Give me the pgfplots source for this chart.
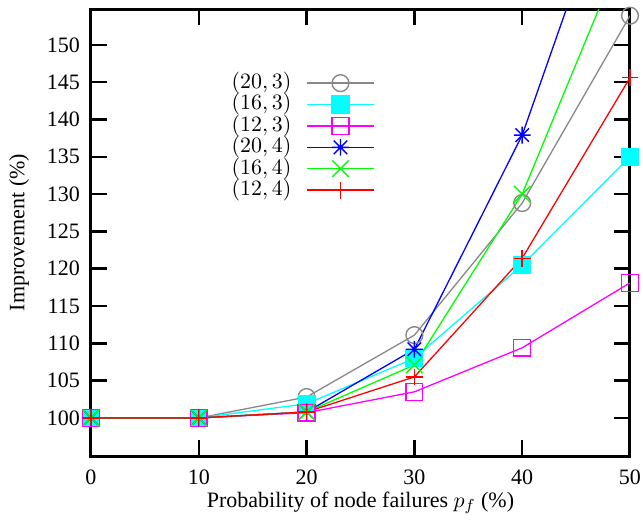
\documentclass[border=0pt]{standalone}
\usepackage{fontspec}
\setmainfont{Liberation Serif}
\usepackage{pgfplots}
\pgfplotsset{compat=1.18}

% gnuplot-like asterisk: plus and cross together
\pgfdeclareplotmark{gpstar}{%
  \pgfpathmoveto{\pgfqpoint{-\pgfplotmarksize}{0pt}}%
  \pgfpathlineto{\pgfqpoint{\pgfplotmarksize}{0pt}}%
  \pgfpathmoveto{\pgfqpoint{0pt}{-\pgfplotmarksize}}%
  \pgfpathlineto{\pgfqpoint{0pt}{\pgfplotmarksize}}%
  \pgfpathmoveto{\pgfqpoint{-0.8\pgfplotmarksize}{-0.8\pgfplotmarksize}}%
  \pgfpathlineto{\pgfqpoint{0.8\pgfplotmarksize}{0.8\pgfplotmarksize}}%
  \pgfpathmoveto{\pgfqpoint{-0.8\pgfplotmarksize}{0.8\pgfplotmarksize}}%
  \pgfpathlineto{\pgfqpoint{0.8\pgfplotmarksize}{-0.8\pgfplotmarksize}}%
  \pgfusepathqstroke}

\definecolor{gpgray}{RGB}{136,136,136}
\definecolor{gpcyan}{RGB}{0,255,255}
\definecolor{gpmagenta}{RGB}{255,0,255}
\definecolor{gpblue}{RGB}{0,0,255}
\definecolor{gpgreen}{RGB}{0,255,0}
\definecolor{gpred}{RGB}{255,0,0}

\begin{document}
\begin{tikzpicture}[font=\fontsize{11}{13}\selectfont]
\begin{axis}[
    scale only axis, width=269.5pt, height=223.5pt,
    xmin=0, xmax=50, ymin=94.9, ymax=154.8,
    xtick={0,10,...,50}, ytick={100,105,...,150},
    tick align=inside, major tick length=8pt,
    tick style={black, line width=1.2pt},
    axis line style={black, line width=1.5pt},
    /pgf/number format/assume math mode=true,
    xticklabel style={yshift=-3.5pt},
    yticklabel style={xshift=-2pt},
    xlabel={Probability of node failures $p_f$ (\%)},
    ylabel={Improvement (\%)},
    xlabel style={at={(axis description cs:0.5,0)}, anchor=base, yshift=-25.5pt},
    ylabel style={at={(axis description cs:-0.1336,0.5)}, anchor=center},
    every axis plot/.append style={line width=0.65pt, mark size=4.2pt,
        mark options={solid, line width=0.7pt}},
    legend plot pos=right, legend cell align=right,
    legend style={at={(0.527,0.859)}, anchor=north east, draw=none, fill=none,
        inner sep=0pt, row sep=0pt,
        nodes={inner sep=0pt, text height=8pt, text depth=2.7pt},
        /tikz/every odd column/.append style={column sep=7.5pt}},
    legend image code/.code={%
        \draw[mark repeat=2, mark phase=2]
            plot coordinates {(0pt,0pt) (16.75pt,0pt) (33.5pt,0pt)};},
]
\addplot[gpgray, mark=o] coordinates
    {(0,100) (10,100) (20,102.8) (30,111.1) (40,128.8) (50,153.9)};
\addlegendentry{$(20,3)$}
\addplot[gpcyan, mark=square*, mark options={fill=gpcyan, draw=gpcyan}] coordinates
    {(0,100) (10,100) (20,101.9) (30,108.0) (40,120.5) (50,135.0)};
\addlegendentry{$(16,3)$}
\addplot[gpmagenta, mark=square] coordinates
    {(0,100) (10,100) (20,100.7) (30,103.5) (40,109.4) (50,118.1)};
\addlegendentry{$(12,3)$}
\addplot[gpblue, mark=gpstar] coordinates
    {(0,100) (10,100) (20,100.8) (30,109.2) (40,137.9) (50,179.1)};
\addlegendentry{$(20,4)$}
\addplot[gpgreen, mark=x, mark size=5.8pt] coordinates
    {(0,100) (10,100) (20,100.8) (30,107.1) (40,130.0) (50,164.9)};
\addlegendentry{$(16,4)$}
\addplot[gpred, mark=+] coordinates
    {(0,100) (10,100) (20,100.8) (30,105.5) (40,121.4) (50,145.6)};
\addlegendentry{$(12,4)$}
\end{axis}
\pgfresetboundingbox
\path (-45.5pt,-32.5pt) rectangle (276pt,228pt);
\end{tikzpicture}
\end{document}
